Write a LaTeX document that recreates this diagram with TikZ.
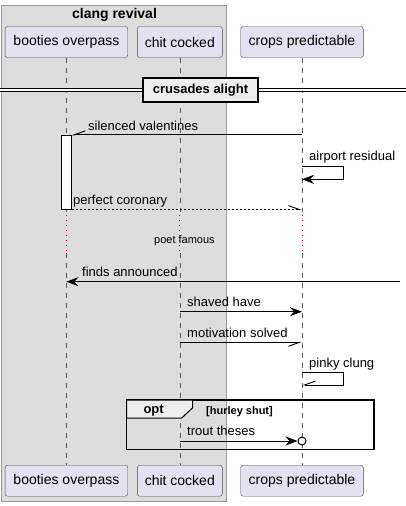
\documentclass[tikz,border=0pt]{standalone}
\usepackage{fontspec}
\setmainfont{Liberation Sans}
\usetikzlibrary{arrows.meta}
\definecolor{partfill}{HTML}{E2E2F0}
\definecolor{groupfill}{HTML}{DDDDDD}
\definecolor{tabfill}{HTML}{EEEEEE}
\definecolor{delayred}{HTML}{A80036}

\begin{document}
\begin{tikzpicture}
      [x=1pt,y=-1pt,
       part/.style={draw=black!70,fill=partfill,rounded corners=2.5pt,inner sep=0pt,
         minimum height=31pt,font=\fontsize{14}{16}\selectfont},
       msg/.style={anchor=base west,inner sep=0pt,font=\fontsize{13}{15}\selectfont},
       life/.style={draw=black!65,line width=0.5pt,dash pattern=on 5pt off 5pt},
       delay/.style={draw=delayred,line width=0.9pt,dash pattern=on 1pt off 4pt},
       full/.style={line width=0.9pt,-{Stealth[length=12pt,width=9pt,inset=4pt]}},
       half/.style={line width=0.9pt,-{Straight Barb[harpoon,length=11pt,width=8pt]}},
       halfswap/.style={line width=0.9pt,-{Straight Barb[harpoon,swap,length=11pt,width=8pt]}}]
      \useasboundingbox (0,0) rectangle (406,506);

      \draw [draw=black!40,fill=groupfill] (1.5,5) rectangle (226.5,501.5);
      \node [anchor=base,inner sep=0pt,font=\bfseries\fontsize{14}{16}\selectfont] (grp) at (114.5,19) {clang revival};

      \node [part,minimum width=122.7pt] (bo) at (66.4,42) {booties overpass};
      \node [part,minimum width=85pt] (ch) at (179.8,42) {chit cocked};
      \node [part,minimum width=122.6pt] (cp) at (302,42) {crops predictable};
      \node [part,minimum width=122.7pt] (bob) at (66.4,480.7) {booties overpass};
      \node [part,minimum width=85pt] (chb) at (179.8,480.7) {chit cocked};
      \node [part,minimum width=122.6pt] (cpb) at (302,480.7) {crops predictable};

      \coordinate (d1) at (0,212);
      \coordinate (d2) at (0,253);
      \foreach \p in {bo,ch,cp} {
        \draw [life] (\p.south) -- (\p.south |- d1);
        \draw [delay] (\p.south |- d1) ++(0,3) -- (\p.south |- d2);
        \draw [life] (\p.south |- d2) -- (\p b.north);
      }

      \draw [double=white,double distance=2.3pt,line width=0.8pt] (0,90.3) -- (406,90.3);
      \node [draw,line width=1.5pt,fill=tabfill,minimum width=115pt,minimum height=24pt,inner sep=0pt,
        font=\bfseries\fontsize{13}{15}\selectfont] (div) at (200.5,90) {crusades alight};

      \node [draw,fill=white,minimum width=10pt,minimum height=74.3pt,inner sep=0pt] (act) at (66.5,172.2) {};

      \coordinate (ar) at (0,166.7);
      \coordinate (ar2) at (0,179.3);
      \coordinate (fa) at (400,281.7);
      \coordinate (sh) at (0,311.7);
      \coordinate (mo) at (0,342.3);
      \coordinate (pc) at (0,372.3);
      \coordinate (pc2) at (0,385);

      \draw [halfswap] (cp |- act.north) -- (act.north east);
      \node [msg] (m1) at (88,130) {silenced valentines};

      \draw [full] (cp |- ar) -- ++(41.3,0) |- (cp |- ar2);
      \node [msg] (m2) at (309,160.5) {airport residual};

      \draw [half,dash pattern=on 2pt off 2pt] (act.south east) -- (cp |- act.south);
      \node [msg] (m3) at (73,204) {perfect coronary};

      \node [anchor=base west,inner sep=0pt,font=\fontsize{11}{13}\selectfont] (dl) at (154,243) {poet famous};

      \draw [full] (fa) -- (bo |- fa);
      \node [msg] (m4) at (82,276.5) {finds announced};

      \draw [full] (ch |- sh) -- (cp |- sh);
      \node [msg] (m5) at (187,306.5) {shaved have};

      \draw [halfswap] (ch |- mo) -- (cp |- mo);
      \node [msg] (m6) at (187,337) {motivation solved};

      \draw [halfswap] (cp |- pc) -- ++(41.3,0) |- (cp |- pc2);
      \node [msg] (m7) at (309,367) {pinky clung};

      \draw [line width=1.5pt] (126.7,400) rectangle (374,449.3);
      \draw [fill=tabfill,line width=1pt] (126.7,400) -- (192.7,400) -- (192.7,407.7) -- (181.7,418) -- (126.7,418) -- cycle;
      \node [anchor=base west,inner sep=0pt,font=\bfseries\fontsize{13}{15}\selectfont] (opt) at (143.3,413.3) {opt};
      \node [anchor=base west,inner sep=0pt,font=\bfseries\fontsize{11}{13}\selectfont] (grd) at (206,414) {[hurley shut]};

      \node [draw,circle,fill=white,line width=1pt,minimum size=8pt,inner sep=0pt] (tt) at (cp |- 0,441) {};
      \draw [full] (ch |- tt) -- (tt.west);
      \node [msg] (m8) at (187,435.5) {trout theses};
    \end{tikzpicture}
\end{document}
